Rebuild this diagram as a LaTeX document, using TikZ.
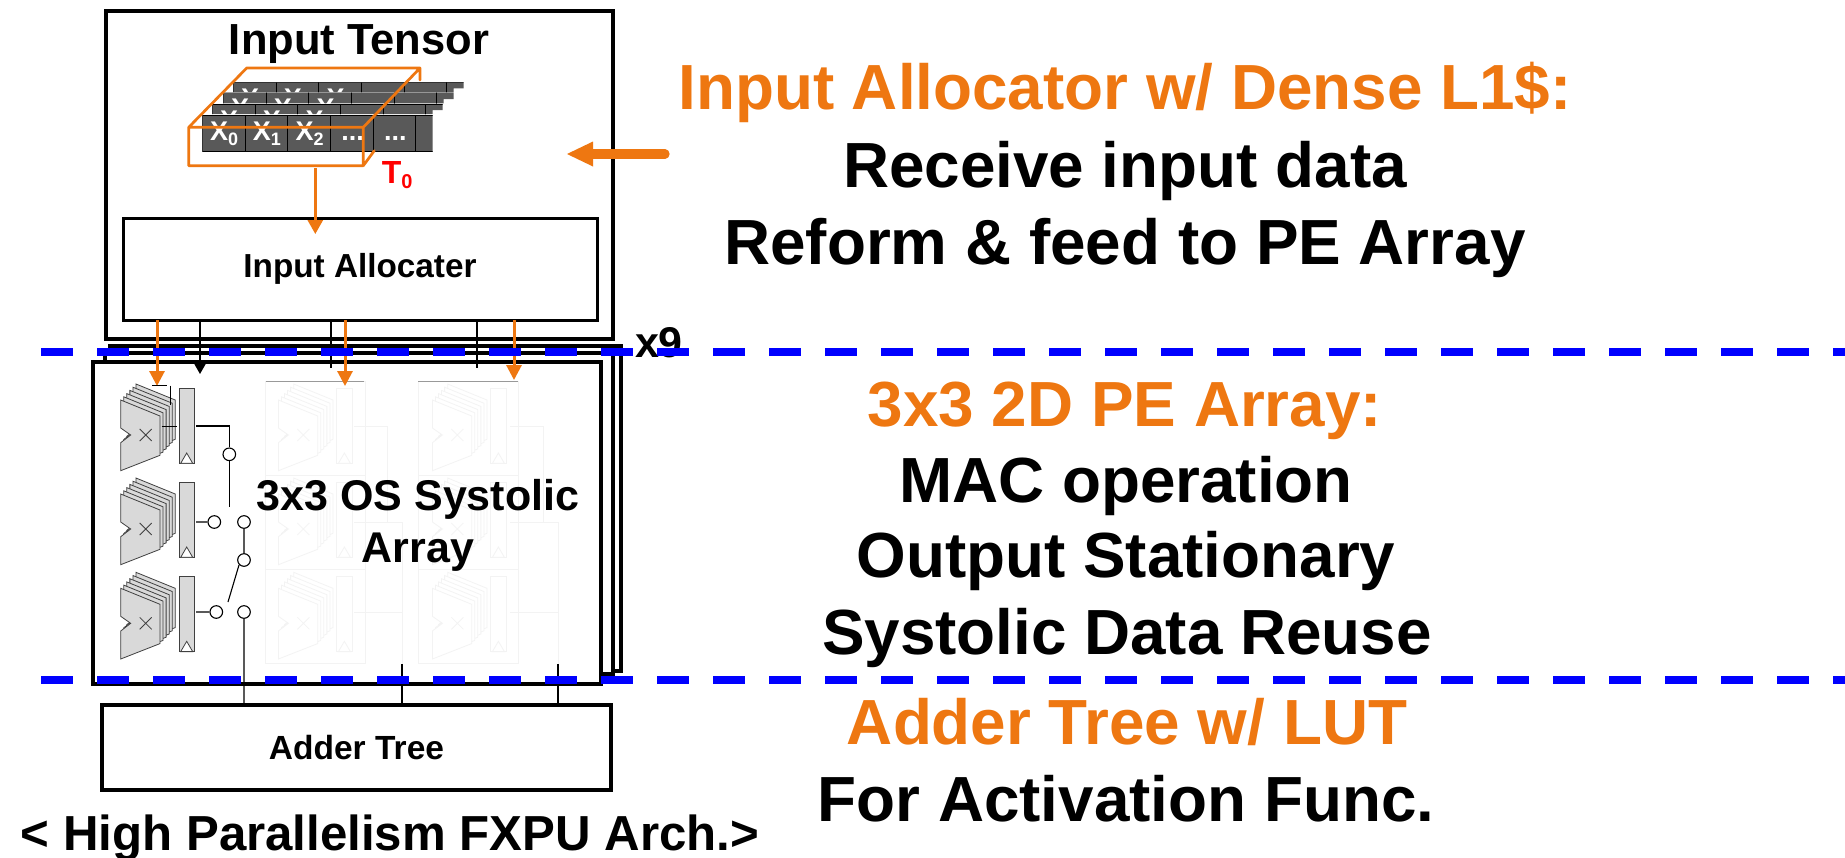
\documentclass[tikz,border=0pt]{standalone}
\usepackage{fontspec}
\setmainfont{Liberation Sans}
\usetikzlibrary{arrows.meta}
\definecolor{orng}{HTML}{EE7711}
\definecolor{dk}{HTML}{595959}
\definecolor{blu}{HTML}{0000FF}
\definecolor{fline}{HTML}{F3F3F3}
\definecolor{gfill}{HTML}{D9D9D9}
\newcommand{\fs}[1]{\fontsize{#1}{#1}\selectfont\bfseries}
\tikzset{
 bx/.style={draw=black,line width=4,fill=white,inner sep=0,outer sep=0},
 bigtxt/.style={anchor=base,inner sep=0,outer sep=0,font=\fs{63.8}},
 hd/.style={bigtxt,text=orng},
 lbl/.style={anchor=base,inner sep=0,outer sep=0,font=\fs{43}},
 oarrow/.style={draw=orng,line width=3,-{Triangle[length=15,width=15]}},
 tw/.style={draw=black,line width=1.1},
 bluedash/.style={draw=blu,line width=7.3,dash pattern=on 32 off 24},
 cubeedge/.style={draw=orng,line width=2.7,line join=round,line cap=round},
}
% #1 dx, #2 dy, #3 line colour, #4 fill
\newcommand{\pecell}[4]{%
 \begin{scope}[shift={(#1,#2)},draw=#3,line width=0.8]
  \foreach \k in {5,4,3,2,1,0}{
   \filldraw[fill=#4,shift={(\k*3.05,-\k*3.2)}] (120.7,400)--(160,416)--(160,455.3)--(120.7,470.7)--(120.7,442.7)--(130.7,435)--(120.7,428)--cycle;
  }
  \draw (139.7,429)--(151.7,441) (151.7,429)--(139.7,441);
  \filldraw[fill=#4] (179,388) rectangle (194.7,463.3);
  \filldraw[fill=white] (186.7,453)--(180.7,463.3)--(192.7,463.3)--cycle;
 \end{scope}}
% tensor back row: #1 offset x, #2 ytop, #3 ymid, #4 ybot
\newcommand{\tenrow}[4]{%
 \begin{scope}
  \clip (202.3+#1,#2)--(432.7+#1,#2)--(432.7+#1,#3)--(422.7+#1,#3)--(422.7+#1,#4)--(202.3+#1,#4)--cycle;
  \foreach \i in {0,1,2,3,4,5,6}{
   \filldraw[fill=dk,draw=black,line width=0.9] ({202.3+#1+42.67*\i},#2) rectangle ++(42.67,50);
  }
  \foreach \i in {0,1,2}{
   \node[anchor=base west,inner sep=0,text=white,font=\fs{27}] at ({210+#1+42.67*\i},{#2+25}) {X};
  }
 \end{scope}}
\begin{document}
\begin{tikzpicture}[x=1pt,y=-1pt]
\useasboundingbox (0,0) rectangle (1845,857);
% stacked PE boards
\draw[black,line width=4,fill=white] (110,346) rectangle (621,671);
\draw[black,line width=4,fill=white] (105,353) rectangle (613,674);
\node[bx,minimum width=508,minimum height=322] (pearr) at (347,523) {};
% faint cells
\foreach \cx/\cy in {265.7/381,265.7/475,265.7/569,418/381,418/475,418/569}{
 \draw[fline,line width=0.8] (\cx,\cy) rectangle ++(100,94);
}
\draw[gray!80,line width=0.8] (265.7,381)--(364.3,381) (418,381)--(518,381);
\foreach \cy in {0,94,188.3}{
 \pecell{157.7}{\cy}{fline}{white}
 \pecell{311.7}{\cy}{fline}{white}
}
\draw[fline,line width=1] (354,426)--(387,426)--(387,522) (354,522)--(402,522)--(402,664) (354,612)--(402,612);
\draw[fline,line width=1] (510,426)--(543,426)--(543,522) (510,522)--(558,522)--(558,664) (510,612)--(558,612);
% black PE column
\foreach \cy in {0,94,188.3}{\pecell{0}{\cy}{black!75}{gfill}}
% input box
\node[bx,minimum width=507,minimum height=328] (inbox) at (359.5,175) {};
\node[lbl,font=\fs{43.5}] (intitle) at (359,54) {Input Tensor};
% tensor
\tenrow{31}{82.3}{88.3}{92}
\tenrow{21}{92.7}{99}{103.3}
\tenrow{10}{104}{110}{114}
\begin{scope}
 \clip (202.3,114) rectangle (432.7,152.2);
 \foreach \i in {0,1,2,3,4,5}{
  \filldraw[fill=dk,draw=black,line width=0.9] ({202.3+42.67*\i},115) rectangle ++(42.67,36.7);
 }
\end{scope}
\foreach \i/\s in {0/0,1/1,2/2}{
 \node[anchor=base west,inner sep=0,text=white,font=\fs{27}] (x\i) at ({210+42.67*\i},140) {X\raisebox{-5pt}{\fs{18}\s}};
}
\node[anchor=base,inner sep=0,text=white,font=\fs{27}] (d1) at (352.6,140) {...};
\node[anchor=base,inner sep=0,text=white,font=\fs{27}] (d2) at (395.3,140) {...};
\node[anchor=base west,inner sep=0,text=red,font=\fs{32}] (t0) at (381.7,183) {T\raisebox{-5pt}{\fs{20}0}};
% orange cuboid
\draw[cubeedge] (188.7,127.3)--(363.3,127.3)--(363.3,165.7)--(188.7,165.7)--cycle
 (188.7,127.3)--(246.7,68)--(420,68)--(363.3,127.3) (420,68)--(420,80)
 (363.3,165.7)--(374.3,150.7);
% allocator
\node[bx,line width=3,minimum width=474,minimum height=102,font=\fs{33.3}] (alloc) at (360,269) {\raisebox{-1pt}{Input Allocater}};
\coordinate (cube) at (315.3,168);
\coordinate (alin) at (315.3,234);
\draw[orng,line width=2.7,-{Triangle[length=14,width=15]}] (cube)--(alin);
% big arrow
\coordinate (ba) at (665,154);
\coordinate (bb) at (567,154);
\draw[orng,line width=9.3,line cap=round] (ba)--(590,154);
\fill[orng] (bb)--(593,141.5)--(593,166.5)--cycle;
% adder
\node[bx,minimum width=509,minimum height=85,font=\fs{33.5}] (adder) at (356.5,747.5) {\raisebox{1pt}{Adder Tree}};
% thin connectors
\coordinate (b1) at (200,374); \coordinate (b2) at (331,368); \coordinate (b3) at (477,368);
\draw[black,line width=1.3,-{Triangle[length=10,width=11]}] (alloc.south -| b1)--(b1);
\draw[black,line width=1.3] (alloc.south -| b2)--(b2) (alloc.south -| b3)--(b3);
\coordinate (a1) at (157,386); \coordinate (a2) at (345,386); \coordinate (a3) at (514,380);
\foreach \a in {a1,a2,a3}{\draw[oarrow] (alloc.south -| \a)--(\a);}
% top of first PE
\draw[black,line width=1] (152,385.7)--(167,385.7);
\draw[black,line width=0.7] (170,385.7)--(170,405) (161.7,426)--(176.7,426);
% wiring first column
\node[circle,draw=black,fill=white,line width=1.1,minimum size=12.6,inner sep=0] (c1) at (229.3,454.3) {};
\node[circle,draw=black,fill=white,line width=1.1,minimum size=12.6,inner sep=0] (c2) at (214.3,522) {};
\node[circle,draw=black,fill=white,line width=1.1,minimum size=12.6,inner sep=0] (c3) at (244,522) {};
\node[circle,draw=black,fill=white,line width=1.1,minimum size=12.6,inner sep=0] (c4) at (244,560) {};
\node[circle,draw=black,fill=white,line width=1.1,minimum size=12.6,inner sep=0] (c5) at (216.3,612) {};
\node[circle,draw=black,fill=white,line width=1.1,minimum size=12.6,inner sep=0] (c6) at (244,612) {};
\coordinate (r1) at (196,426); \coordinate (r2) at (196,522); \coordinate (r3) at (196,612);
\coordinate (sw1) at (239,565); \coordinate (sw2) at (228,602); \coordinate (sw3) at (229.3,506.7);
\draw[tw] (r1)-|(c1.north) (c1.south)--(sw3);
\draw[tw] (r2)--(c2.west) (r3)--(c5.west) (c3.south)--(c4.north) (sw1)--(sw2) (c6.south)--(c6.south |- adder.north);
\coordinate (e2) at (402,664); \coordinate (e3) at (558,664);
\draw[tw] (e2)--(e2 |- adder.north) (e3)--(e3 |- adder.north);
% texts
\node[lbl] (sys1) at (418,510) {3x3 OS Systolic};
\node[lbl] (sys2) at (418,562) {Array};
\node[lbl,anchor=base west] (x9) at (635,357) {x9};
\node[hd] (h1) at (1125,109.5) {Input Allocator w/ Dense L1\$:};
\node[bigtxt] (l1) at (1125,187) {Receive input data};
\node[bigtxt] (l2) at (1125,264) {Reform \& feed to PE Array};
\node[hd] (h2) at (1125,426) {3x3 2D PE Array:};
\node[bigtxt] (l3) at (1126,502) {MAC operation};
\node[bigtxt] (l4) at (1126,577) {Output Stationary};
\node[bigtxt] (l5) at (1127,654) {Systolic Data Reuse};
\node[hd] (h3) at (1127,744) {Adder Tree w/ LUT};
\node[bigtxt] (l6) at (1126,821) {For Activation Func.};
\node[bigtxt,font=\fs{49.2}] (cap) at (390,850) {< High Parallelism FXPU Arch.>};
% blue dashed
\coordinate (dl1) at (41,352); \coordinate (dr1) at (1845,352);
\coordinate (dl2) at (41,680); \coordinate (dr2) at (1845,680);
\draw[bluedash] (dl1)--(dr1);
\draw[bluedash] (dl2)--(dr2);
\end{tikzpicture}
\end{document}
